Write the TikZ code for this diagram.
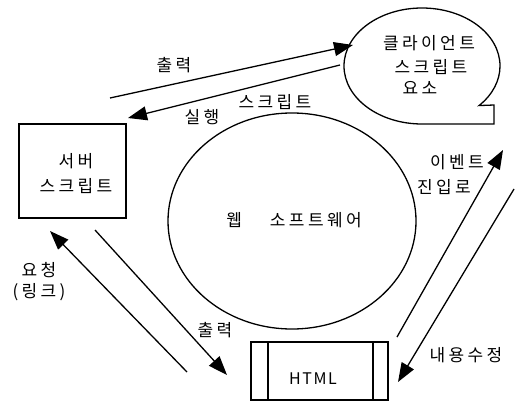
\documentclass[tikz,border=0pt]{standalone}
\usepackage{fontspec}
\setmainfont{Noto Sans CJK KR}
\usetikzlibrary{arrows.meta,shapes.geometric}
\begin{document}
\begin{tikzpicture}[x=1bp,y=1bp,
  lbl/.style={inner sep=0pt,font=\fontsize{17bp}{19bp}\selectfont\addfontfeature{LetterSpace=20}},
  conn/.style={line width=1.3bp,-{Triangle[length=19bp,width=14bp]}},
  boxline/.style={line width=1.3bp}]
\useasboundingbox (0,0) rectangle (515,402);
% nodes
\node[draw,boxline,rectangle,minimum width=107bp,minimum height=94bp,inner sep=0pt] (server) at (72.5,231) {};
\node[lbl,align=center] (servertxt) at (76,228) {서버\\[6bp]스크립트};
\node[draw,boxline,ellipse,minimum width=248bp,minimum height=216bp,inner sep=0pt] (web) at (292,181) {};
\node[lbl] (webtxt) at (294,182) {웹\hspace{28bp}소프트웨어};
\draw[boxline] (494,278) -- (422,278) arc[start angle=-90,end angle=-403,x radius=78,y radius=58] -- (494,297) -- cycle;
\coordinate (client) at (422,336);
\node[lbl] (c1) at (429,359) {클라이언트};
\node[lbl] (c2) at (431,335) {스크립트};
\node[lbl] (c3) at (420,314) {요소};
\node[draw,boxline,rectangle,minimum width=137bp,minimum height=58bp,inner sep=0pt] (html) at (319.5,31) {};
\draw[boxline] (268,2) -- (268,60) (373,2) -- (373,60);
\node[lbl,font=\fontsize{16bp}{19bp}\selectfont\addfontfeature{LetterSpace=10}] (htmltxt) at (313,23) {HTML};
% connector end points
\coordinate (a1s) at (110,304); \coordinate (a1e) at (353,357);
\coordinate (a2s) at (340,337); \coordinate (a2e) at (128,284);
\coordinate (a3s) at (95,172);  \coordinate (a3e) at (227,27);
\coordinate (a4s) at (187,30);  \coordinate (a4e) at (50,171);
\coordinate (a5s) at (397,65);  \coordinate (a5e) at (503,252);
\coordinate (a6s) at (514,213); \coordinate (a6e) at (398,20);
\draw[conn] (a1s) -- (a1e);
\draw[conn] (a2s) -- (a2e);
\draw[conn] (a3s) -- (a3e);
\draw[conn] (a4s) -- (a4e);
\draw[conn] (a5s) -- (a5e);
\draw[conn] (a6s) -- (a6e);
% labels
\node[lbl] (l1) at (174,337) {출력};
\node[lbl] (l2a) at (202,285) {실행};
\node[lbl] (l2b) at (275,300) {스크립트};
\node[lbl] (l3) at (215,72) {출력};
\node[lbl] (l4a) at (39,132) {요청};
\node[lbl] (l4b) at (39,110) {(링크)};
\node[lbl] (l5a) at (457,240) {이벤트};
\node[lbl] (l5b) at (444,215) {진입로};
\node[lbl] (l6) at (466,47) {내용수정};
\end{tikzpicture}
\end{document}
